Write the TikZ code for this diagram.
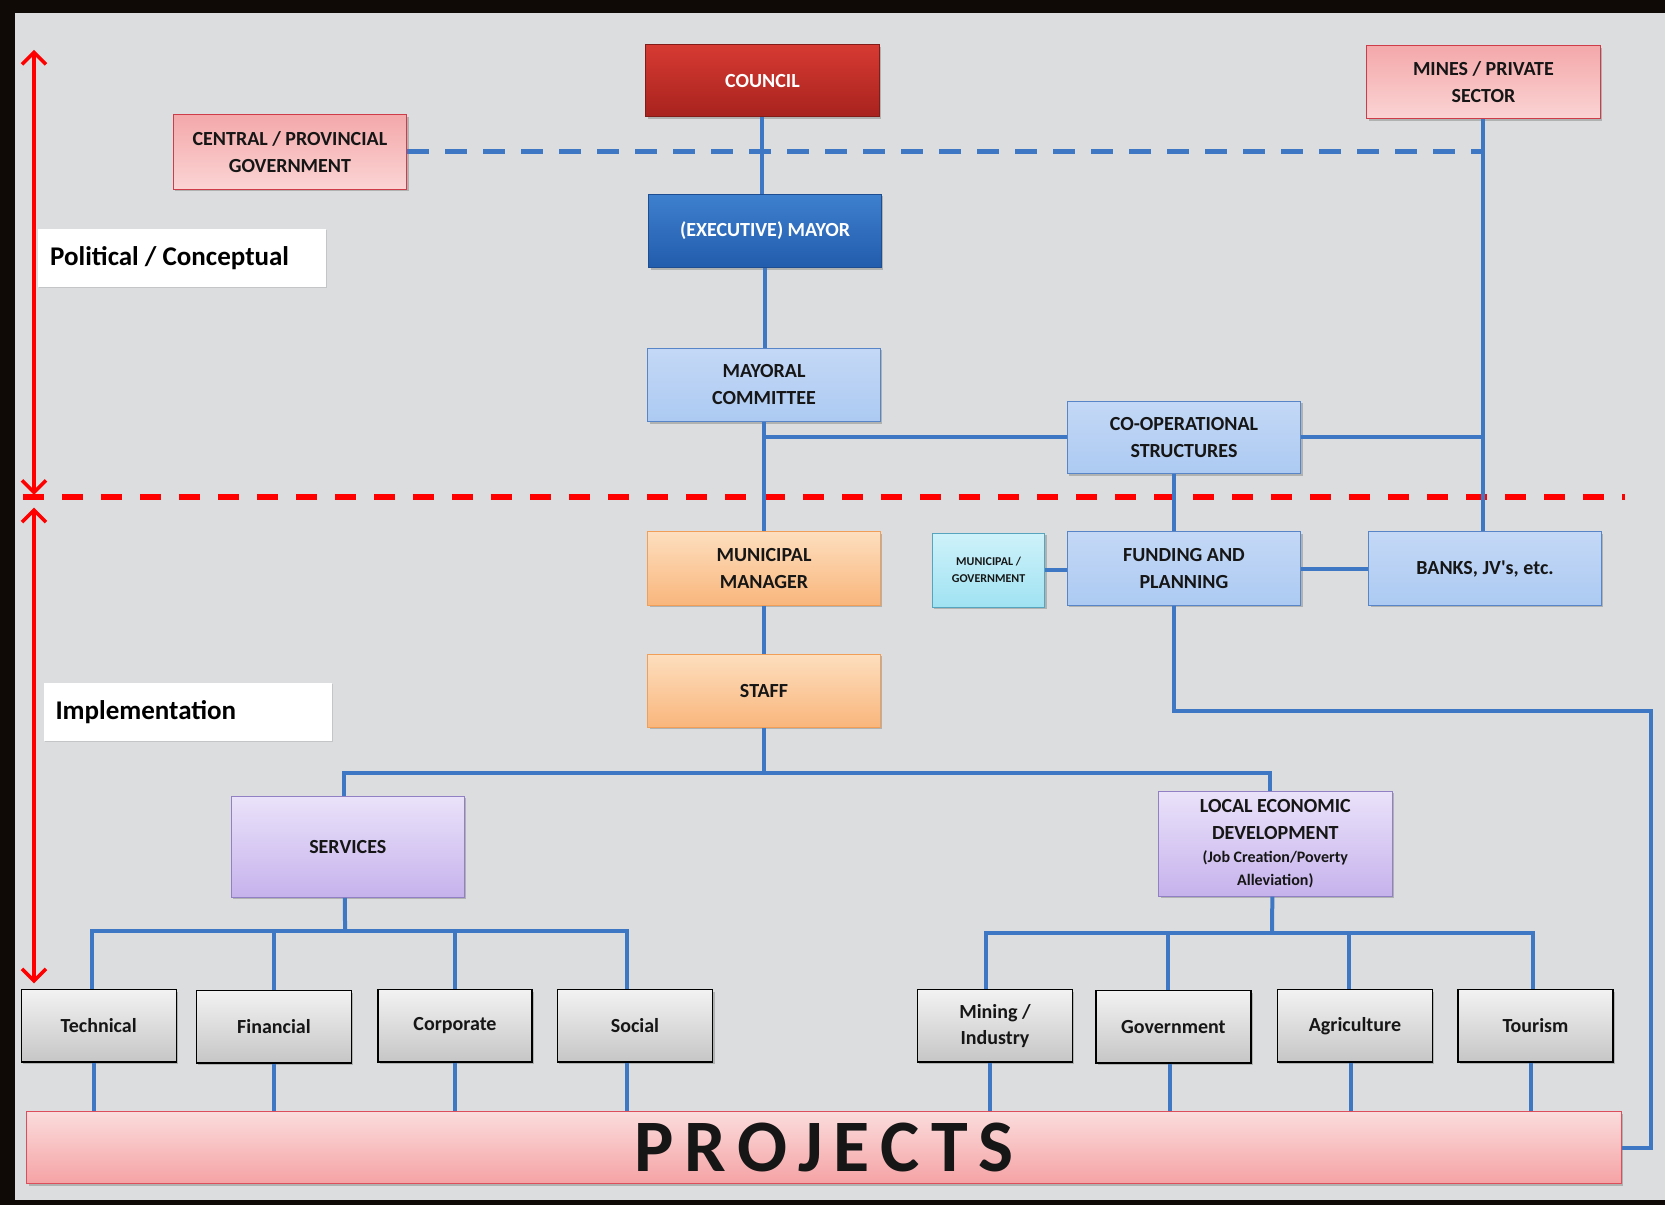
\documentclass[tikz,border=0pt]{standalone}
\usepackage{fontspec}
\setmainfont{Carlito}
\usetikzlibrary{arrows.meta,shadows,calc}
\definecolor{bgc}{RGB}{220,221,222}
\definecolor{lineblue}{RGB}{62,120,196}
\definecolor{redA}{RGB}{214,58,50}
\definecolor{redB}{RGB}{168,34,30}
\definecolor{redD}{RGB}{130,28,24}
\definecolor{mayA}{RGB}{62,128,206}
\definecolor{mayB}{RGB}{34,92,172}
\definecolor{mayD}{RGB}{30,78,145}
\definecolor{pinkA}{RGB}{244,168,170}
\definecolor{pinkB}{RGB}{251,212,212}
\definecolor{pinkD}{RGB}{205,60,72}
\definecolor{lbA}{RGB}{196,216,246}
\definecolor{lbM}{RGB}{226,236,251}
\definecolor{lbB}{RGB}{172,202,242}
\definecolor{lbD}{RGB}{88,132,200}
\definecolor{orA}{RGB}{253,222,190}
\definecolor{orB}{RGB}{249,182,124}
\definecolor{orD}{RGB}{240,158,88}
\definecolor{cyA}{RGB}{206,242,250}
\definecolor{cyB}{RGB}{160,226,242}
\definecolor{cyD}{RGB}{86,164,190}
\definecolor{lvA}{RGB}{234,226,250}
\definecolor{lvB}{RGB}{198,178,236}
\definecolor{lvD}{RGB}{146,128,196}
\definecolor{gyA}{RGB}{242,242,242}
\definecolor{gyB}{RGB}{198,198,198}
\definecolor{prA}{RGB}{251,220,220}
\definecolor{prB}{RGB}{245,162,164}
\definecolor{prD}{RGB}{220,78,92}
\definecolor{txt}{RGB}{22,22,22}
\newcommand\bx[7]{%
  \pgfmathsetmacro\bxcx{(#3+#5)/2}%
  \pgfmathsetmacro\bxcy{(#4+#6)/2}%
  \pgfmathsetmacro\bxw{(#5-#3)*1.0619}%
  \pgfmathsetmacro\bxh{(#6-#4)*1.0619}%
  \node[#2, minimum width=\bxw pt, minimum height=\bxh pt] (#1) at (\bxcx,\bxcy) {#7};}
\tikzset{
  base/.style={rectangle, inner sep=2pt, align=center, text=txt,
    font=\fontsize{20}{27}\selectfont\bfseries, line width=1pt,
    drop shadow={shadow xshift=2pt, shadow yshift=-2pt, opacity=0.3, fill=black!70}},
  redbox/.style={base, top color=redA, bottom color=redB, draw=redD, text=white},
  maybox/.style={base, top color=mayA, bottom color=mayB, draw=mayD, text=white},
  pinkbox/.style={base, top color=pinkA, bottom color=pinkB, draw=pinkD},
  lbbox/.style={base, top color=lbA, middle color=lbM, bottom color=lbB, draw=lbD},
  orbox/.style={base, top color=orA, bottom color=orB, draw=orD},
  cybox/.style={base, top color=cyA, bottom color=cyB, draw=cyD, font=\fontsize{12}{17}\selectfont\bfseries},
  lvbox/.style={base, top color=lvA, bottom color=lvB, draw=lvD},
  gybox/.style={base, top color=gyA, bottom color=gyB, draw=black, line width=1.3pt, font=\fontsize{20}{26}\selectfont\bfseries},
  prbox/.style={base, top color=prA, bottom color=prB, draw=prD},
  wlabel/.style={rectangle, fill=white, draw=none,
    drop shadow={shadow xshift=1pt, shadow yshift=-1pt, opacity=0.2, fill=black!60}},
  wtext/.style={anchor=west, inner sep=0pt, text=black, font=\fontsize{27}{32}\selectfont\bfseries},
  conn/.style={draw=lineblue, line width=4pt},
  bdash/.style={draw=lineblue, line width=5pt, dash pattern=on 22pt off 16pt},
  rdash/.style={draw=red, line width=6pt, dash pattern=on 21pt off 18pt},
  rarrow/.style={draw=red, line width=3.5pt, {Straight Barb[length=12pt,width=24pt]}-{Straight Barb[length=12pt,width=24pt]}}
}
\begin{document}
\begin{tikzpicture}[x=1.0619pt, y=-1.0619pt]
\useasboundingbox (0,0) rectangle (1568,1135);
% frame and background
\fill[black!92!brown] (0,0) rectangle (1568,1135);
\fill[bgc] (14,12) rectangle (1568,1130);

% separators and arrows
\coordinate (rl) at (22,468);
\coordinate (rr) at (1530,468);
\draw[rdash] (rl) -- (rr);
\coordinate (a1) at (32,47);
\coordinate (a2) at (32,466);
\coordinate (a3) at (32,478);
\coordinate (a4) at (32,926);
\draw[rarrow] (a1) -- (a2);
\draw[rarrow] (a3) -- (a4);

% nodes
\bx{council}{redbox}{608}{42}{828}{110}{COUNCIL}
\bx{central}{pinkbox}{163}{108}{383}{178}{CENTRAL / PROVINCIAL\\GOVERNMENT}
\bx{mines}{pinkbox}{1287}{43}{1507}{112}{MINES / PRIVATE\\SECTOR}
\bx{mayor}{maybox}{611}{183}{830}{252}{(EXECUTIVE) MAYOR}
\bx{mcom}{lbbox}{610}{328}{829}{397}{MAYORAL\\COMMITTEE}
\bx{coop}{lbbox}{1005}{378}{1225}{446}{CO-OPERATIONAL\\STRUCTURES}
\bx{mm}{orbox}{610}{501}{829}{570}{MUNICIPAL\\MANAGER}
\bx{staff}{orbox}{610}{616}{829}{685}{STAFF}
\bx{mungov}{cybox}{878}{502}{984}{572}{MUNICIPAL /\\GOVERNMENT}
\bx{fund}{lbbox}{1005}{501}{1225}{570}{FUNDING AND\\PLANNING}
\bx{banks}{lbbox}{1289}{501}{1508}{570}{BANKS, JV\textquotesingle s, etc.}
\bx{polit}{wlabel}{36}{216}{307}{270}{}
\node[wtext] (politT) at ([xshift=12pt]polit.west) {Political / Conceptual};
\bx{impl}{wlabel}{41}{643}{313}{698}{}
\node[wtext] (implT) at ([xshift=12pt]impl.west) {Implementation};
\bx{services}{lvbox}{218}{750}{437}{845}{SERVICES}
\bx{led}{lvbox}{1091}{745}{1311}{844}{LOCAL ECONOMIC\\DEVELOPMENT\\[-4pt]{\fontsize{16}{22}\selectfont (Job Creation/Poverty}\\[-4pt]{\fontsize{16}{22}\selectfont Alleviation)}}
\bx{tech}{gybox}{20}{932}{166}{1000}{Technical}
\bx{fin}{gybox}{185}{933}{331}{1001}{Financial}
\bx{corp}{gybox}{356}{932}{501}{1000}{Corporate}
\bx{soc}{gybox}{525}{932}{671}{1000}{Social}
\bx{mining}{gybox}{864}{932}{1010}{1000}{Mining /\\Industry}
\bx{gov}{gybox}{1032}{933}{1178}{1001}{Government}
\bx{agri}{gybox}{1203}{932}{1349}{1000}{Agriculture}
\bx{tour}{gybox}{1373}{932}{1519}{1000}{Tourism}
\bx{proj}{prbox}{25}{1047}{1527}{1115}{\fontsize{74}{80}\selectfont\bfseries P\hspace{11pt}R\hspace{11pt}O\hspace{11pt}J\hspace{11pt}E\hspace{11pt}C\hspace{11pt}T\hspace{11pt}S}

% connectors
\draw[bdash] (central.east) -- (mines.south |- central.east);
\draw[conn] (council.south) -- (council.south |- mayor.north);
\draw[conn] (mayor.south) -- (mayor.south |- mcom.north);
\draw[conn] (mcom.south) -- (mcom.south |- mm.north);
\draw[conn] (mcom.south |- coop.west) -- (coop.west);
\draw[conn] (coop.east) -- (coop.east -| mines.south);
\draw[conn] (mines.south) -- (mines.south |- banks.north);
\draw[conn] ([xshift=-10pt]coop.south) -- ([xshift=-10pt]coop.south |- fund.north);
\draw[conn] (mungov.east) -- (mungov.east -| fund.west);
\draw[conn] (fund.east) -- (banks.west);
\coordinate (fr) at (1555,670);
\draw[conn] ([xshift=-10pt]fund.south) |- (fr) |- (proj.east);
\draw[conn] (mm.south) -- (mm.south |- staff.north);
\coordinate (jbus) at (719.5,728);
\draw[conn] (staff.south) -- (jbus);
\draw[conn] ([xshift=-4pt]services.north) |- (jbus) -| ([xshift=-5pt]led.north);
\coordinate (sb) at (325,877);
\draw[conn] ([xshift=-3pt]services.south) -- (sb);
\draw[conn] ([xshift=-7pt]tech.north) |- (sb) -| ([xshift=-8pt]soc.north);
\draw[conn] (fin.north) -- (fin.north |- sb);
\draw[conn] (corp.north) -- (corp.north |- sb);
\coordinate (lb) at (1198,879);
\draw[conn] ([xshift=-3pt]led.south) -- (lb);
\draw[conn] ([xshift=-9pt]mining.north) |- (lb) -| ([xshift=-2pt]tour.north);
\draw[conn] ([xshift=-5pt]gov.north) -- ([xshift=-5pt]gov.north |- lb);
\draw[conn] ([xshift=-6pt]agri.north) -- ([xshift=-6pt]agri.north |- lb);
\foreach \n/\s in {tech/-5,fin/0,corp/0,soc/-8,mining/-5,gov/-3,agri/-4,tour/-4}{
  \draw[conn] ([xshift=\s pt]\n.south) -- ([xshift=\s pt]\n.south |- proj.north);
}
\end{tikzpicture}
\end{document}
